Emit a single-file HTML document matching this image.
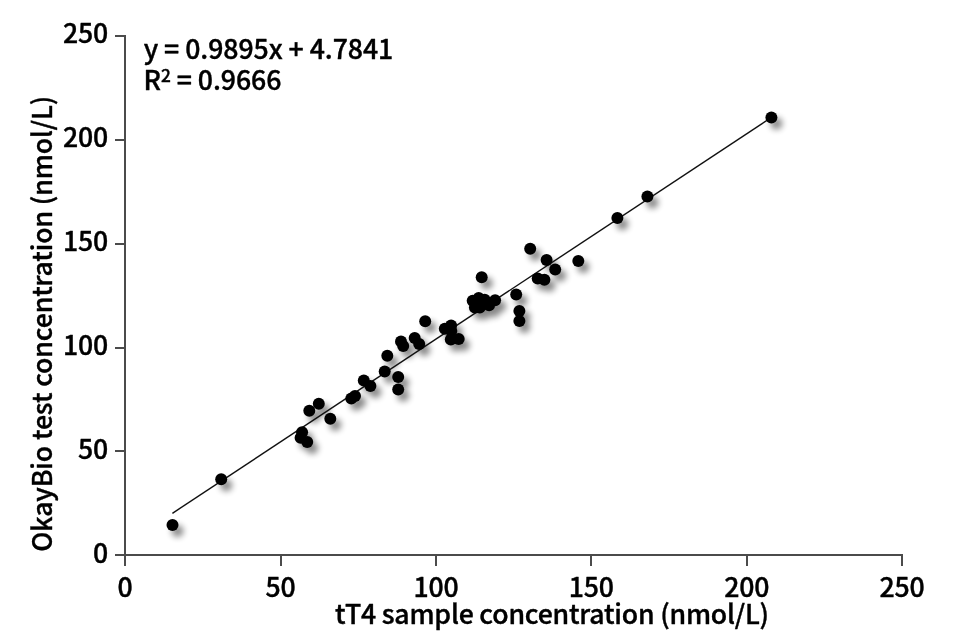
<!DOCTYPE html>
<html lang="en"><head><meta charset="utf-8"><title>tT4 correlation</title>
<style>
html,body{margin:0;padding:0;background:#fff;}
body{width:964px;height:640px;overflow:hidden;}
svg{display:block;}
text{font-family:"Noto Sans CJK SC", "Liberation Sans", sans-serif;font-weight:500;font-size:26.67px;fill:#000;font-feature-settings:"locl" 0;stroke:#000;stroke-width:0.4px;stroke-linejoin:round;}
.tx{letter-spacing:-0.21px;}
.ty{letter-spacing:-0.147px;}
.eq{letter-spacing:-0.06px;}
.tk{letter-spacing:-0.2px;}
</style></head><body>
<svg width="964" height="640" viewBox="0 0 964 640">
<defs>
<filter id="sh" x="-100%" y="-100%" width="300%" height="300%">
<feGaussianBlur in="SourceAlpha" stdDeviation="3" result="b"/>
<feOffset in="b" dx="5" dy="5.5" result="o"/>
<feComponentTransfer in="o" result="s"><feFuncA type="linear" slope="0.47"/></feComponentTransfer>
<feMerge><feMergeNode in="s"/></feMerge>
</filter>
</defs>
<rect width="964" height="640" fill="#fff"/>

<g filter="url(#sh)" fill="#000">
<circle cx="172.5" cy="524.9" r="6"/>
<circle cx="221.2" cy="479.2" r="6"/>
<circle cx="302.1" cy="432.2" r="6"/>
<circle cx="300.6" cy="437.8" r="6"/>
<circle cx="307.2" cy="442.0" r="6"/>
<circle cx="309.3" cy="410.7" r="6"/>
<circle cx="318.8" cy="403.7" r="6"/>
<circle cx="330.3" cy="418.7" r="6"/>
<circle cx="351.3" cy="398.5" r="6"/>
<circle cx="355.0" cy="396.0" r="6"/>
<circle cx="363.8" cy="380.6" r="6"/>
<circle cx="370.4" cy="385.9" r="6"/>
<circle cx="384.7" cy="371.6" r="6"/>
<circle cx="387.3" cy="355.7" r="6"/>
<circle cx="398.2" cy="376.9" r="6"/>
<circle cx="398.2" cy="389.4" r="6"/>
<circle cx="401.0" cy="341.6" r="6"/>
<circle cx="403.2" cy="346.0" r="6"/>
<circle cx="414.7" cy="337.9" r="6"/>
<circle cx="419.2" cy="344.1" r="6"/>
<circle cx="425.2" cy="321.2" r="6"/>
<circle cx="444.8" cy="328.7" r="6"/>
<circle cx="451.1" cy="325.4" r="6"/>
<circle cx="451.3" cy="330.9" r="6"/>
<circle cx="450.8" cy="339.6" r="6"/>
<circle cx="458.7" cy="339.1" r="6"/>
<circle cx="472.7" cy="300.8" r="6"/>
<circle cx="478.7" cy="298.1" r="6"/>
<circle cx="474.9" cy="307.4" r="6"/>
<circle cx="479.8" cy="307.4" r="6"/>
<circle cx="484.7" cy="299.7" r="6"/>
<circle cx="489.1" cy="305.2" r="6"/>
<circle cx="495.1" cy="300.2" r="6"/>
<circle cx="481.7" cy="277.3" r="6"/>
<circle cx="530.2" cy="248.8" r="6"/>
<circle cx="546.6" cy="260.0" r="6"/>
<circle cx="578.3" cy="260.9" r="6"/>
<circle cx="555.2" cy="269.4" r="6"/>
<circle cx="537.7" cy="278.4" r="6"/>
<circle cx="544.4" cy="279.7" r="6"/>
<circle cx="516.2" cy="294.4" r="6"/>
<circle cx="519.4" cy="310.9" r="6"/>
<circle cx="519.4" cy="321.1" r="6"/>
<circle cx="617.4" cy="217.9" r="6"/>
<circle cx="647.4" cy="196.6" r="6"/>
<circle cx="771.4" cy="117.4" r="6"/>
</g>
<g stroke="#4b4b4b" stroke-width="2" fill="none" shape-rendering="crispEdges">
<line x1="125" y1="35" x2="125" y2="566"/>
<line x1="115" y1="555" x2="903" y2="555"/>
<line x1="115" y1="451" x2="125" y2="451"/>
<line x1="281" y1="555" x2="281" y2="566"/>
<line x1="115" y1="348" x2="125" y2="348"/>
<line x1="436" y1="555" x2="436" y2="566"/>
<line x1="115" y1="244" x2="125" y2="244"/>
<line x1="591" y1="555" x2="591" y2="566"/>
<line x1="115" y1="140" x2="125" y2="140"/>
<line x1="747" y1="555" x2="747" y2="566"/>
<line x1="115" y1="36" x2="125" y2="36"/>
<line x1="902" y1="555" x2="902" y2="566"/>
</g>
<line x1="172.4" y1="513.3" x2="771.3" y2="117.5" stroke="#111" stroke-width="1.4"/>
<g fill="#000">
<circle cx="172.5" cy="524.9" r="6"/>
<circle cx="221.2" cy="479.2" r="6"/>
<circle cx="302.1" cy="432.2" r="6"/>
<circle cx="300.6" cy="437.8" r="6"/>
<circle cx="307.2" cy="442.0" r="6"/>
<circle cx="309.3" cy="410.7" r="6"/>
<circle cx="318.8" cy="403.7" r="6"/>
<circle cx="330.3" cy="418.7" r="6"/>
<circle cx="351.3" cy="398.5" r="6"/>
<circle cx="355.0" cy="396.0" r="6"/>
<circle cx="363.8" cy="380.6" r="6"/>
<circle cx="370.4" cy="385.9" r="6"/>
<circle cx="384.7" cy="371.6" r="6"/>
<circle cx="387.3" cy="355.7" r="6"/>
<circle cx="398.2" cy="376.9" r="6"/>
<circle cx="398.2" cy="389.4" r="6"/>
<circle cx="401.0" cy="341.6" r="6"/>
<circle cx="403.2" cy="346.0" r="6"/>
<circle cx="414.7" cy="337.9" r="6"/>
<circle cx="419.2" cy="344.1" r="6"/>
<circle cx="425.2" cy="321.2" r="6"/>
<circle cx="444.8" cy="328.7" r="6"/>
<circle cx="451.1" cy="325.4" r="6"/>
<circle cx="451.3" cy="330.9" r="6"/>
<circle cx="450.8" cy="339.6" r="6"/>
<circle cx="458.7" cy="339.1" r="6"/>
<circle cx="472.7" cy="300.8" r="6"/>
<circle cx="478.7" cy="298.1" r="6"/>
<circle cx="474.9" cy="307.4" r="6"/>
<circle cx="479.8" cy="307.4" r="6"/>
<circle cx="484.7" cy="299.7" r="6"/>
<circle cx="489.1" cy="305.2" r="6"/>
<circle cx="495.1" cy="300.2" r="6"/>
<circle cx="481.7" cy="277.3" r="6"/>
<circle cx="530.2" cy="248.8" r="6"/>
<circle cx="546.6" cy="260.0" r="6"/>
<circle cx="578.3" cy="260.9" r="6"/>
<circle cx="555.2" cy="269.4" r="6"/>
<circle cx="537.7" cy="278.4" r="6"/>
<circle cx="544.4" cy="279.7" r="6"/>
<circle cx="516.2" cy="294.4" r="6"/>
<circle cx="519.4" cy="310.9" r="6"/>
<circle cx="519.4" cy="321.1" r="6"/>
<circle cx="617.4" cy="217.9" r="6"/>
<circle cx="647.4" cy="196.6" r="6"/>
<circle cx="771.4" cy="117.4" r="6"/>
</g>
<text class="tk" x="108.0" y="563.2" text-anchor="end">0</text>
<text class="tk" x="125.1" y="596.8" text-anchor="middle">0</text>
<text class="tk" x="108.0" y="459.2" text-anchor="end">50</text>
<text class="tk" x="280.5" y="596.8" text-anchor="middle">50</text>
<text class="tk" x="108.0" y="355.2" text-anchor="end">100</text>
<text class="tk" x="435.9" y="596.8" text-anchor="middle">100</text>
<text class="tk" x="108.0" y="251.2" text-anchor="end">150</text>
<text class="tk" x="591.3" y="596.8" text-anchor="middle">150</text>
<text class="tk" x="108.0" y="147.2" text-anchor="end">200</text>
<text class="tk" x="746.7" y="596.8" text-anchor="middle">200</text>
<text class="tk" x="108.0" y="43.2" text-anchor="end">250</text>
<text class="tk" x="902.1" y="596.8" text-anchor="middle">250</text>
<text class="tx" x="335" y="623.7">tT4 sample concentration (nmol/L)</text>
<text class="ty" transform="translate(52.2,551.7) rotate(-90)">OkayBio test concentration (nmol/L)</text>
<text class="eq" x="143.7" y="59.2">y = 0.9895x + 4.7841</text>
<text class="eq" x="143.5" y="89.6">R<tspan font-size="17.3" dy="-8">2</tspan><tspan dy="8"> = 0.9666</tspan></text>
</svg></body></html>
